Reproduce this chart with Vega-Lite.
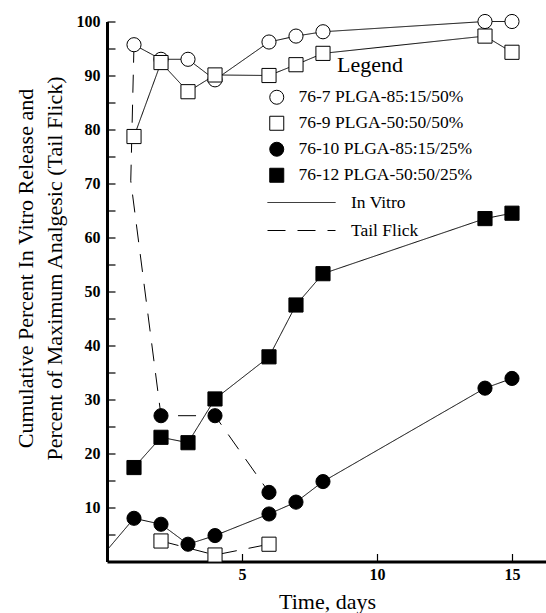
{
  "$schema": "https://vega.github.io/schema/vega-lite/v6.json",
  "width": 439,
  "height": 540,
  "autosize": "none",
  "padding": {"left": 107, "top": 21.5, "right": 0, "bottom": 51.5},
  "background": "white",
  "config": {
    "view": {"stroke": null},
    "font": "Liberation Serif",
    "axis": {"grid": false, "domainColor": "black", "domainWidth": 3, "tickColor": "black", "tickWidth": 1.2, "labelColor": "black", "titleColor": "black", "labelFont": "Liberation Serif", "titleFont": "Liberation Serif"},
    "legend": {"labelFont": "Liberation Serif", "titleFont": "Liberation Serif", "labelColor": "black", "titleColor": "black", "padding": 0, "labelLimit": 400, "symbolStrokeColor": "black"}
  },
  "data": {
    "values": [
      {"day": 1, "pct": 95.7, "series": "76-7 PLGA-85:15/50%", "type": "In Vitro", "curve": "76-7 In Vitro"},
      {"day": 2, "pct": 93.0, "series": "76-7 PLGA-85:15/50%", "type": "In Vitro", "curve": "76-7 In Vitro"},
      {"day": 3, "pct": 93.0, "series": "76-7 PLGA-85:15/50%", "type": "In Vitro", "curve": "76-7 In Vitro"},
      {"day": 4, "pct": 89.2, "series": "76-7 PLGA-85:15/50%", "type": "In Vitro", "curve": "76-7 In Vitro"},
      {"day": 6, "pct": 96.2, "series": "76-7 PLGA-85:15/50%", "type": "In Vitro", "curve": "76-7 In Vitro"},
      {"day": 7, "pct": 97.3, "series": "76-7 PLGA-85:15/50%", "type": "In Vitro", "curve": "76-7 In Vitro"},
      {"day": 8, "pct": 98.1, "series": "76-7 PLGA-85:15/50%", "type": "In Vitro", "curve": "76-7 In Vitro"},
      {"day": 14, "pct": 100, "series": "76-7 PLGA-85:15/50%", "type": "In Vitro", "curve": "76-7 In Vitro"},
      {"day": 15, "pct": 100, "series": "76-7 PLGA-85:15/50%", "type": "In Vitro", "curve": "76-7 In Vitro"},
      {"day": 1, "pct": 78.7, "series": "76-9 PLGA-50:50/50%", "type": "In Vitro", "curve": "76-9 In Vitro"},
      {"day": 2, "pct": 92.4, "series": "76-9 PLGA-50:50/50%", "type": "In Vitro", "curve": "76-9 In Vitro"},
      {"day": 3, "pct": 87.0, "series": "76-9 PLGA-50:50/50%", "type": "In Vitro", "curve": "76-9 In Vitro"},
      {"day": 4, "pct": 90.1, "series": "76-9 PLGA-50:50/50%", "type": "In Vitro", "curve": "76-9 In Vitro"},
      {"day": 6, "pct": 90.0, "series": "76-9 PLGA-50:50/50%", "type": "In Vitro", "curve": "76-9 In Vitro"},
      {"day": 7, "pct": 92.0, "series": "76-9 PLGA-50:50/50%", "type": "In Vitro", "curve": "76-9 In Vitro"},
      {"day": 8, "pct": 94.1, "series": "76-9 PLGA-50:50/50%", "type": "In Vitro", "curve": "76-9 In Vitro"},
      {"day": 14, "pct": 97.3, "series": "76-9 PLGA-50:50/50%", "type": "In Vitro", "curve": "76-9 In Vitro"},
      {"day": 15, "pct": 94.3, "series": "76-9 PLGA-50:50/50%", "type": "In Vitro", "curve": "76-9 In Vitro"},
      {"day": 0, "pct": 2.1, "series": null, "type": "In Vitro", "curve": "76-10 In Vitro"},
      {"day": 1, "pct": 8.0, "series": "76-10 PLGA-85:15/25%", "type": "In Vitro", "curve": "76-10 In Vitro"},
      {"day": 2, "pct": 6.9, "series": "76-10 PLGA-85:15/25%", "type": "In Vitro", "curve": "76-10 In Vitro"},
      {"day": 3, "pct": 3.2, "series": "76-10 PLGA-85:15/25%", "type": "In Vitro", "curve": "76-10 In Vitro"},
      {"day": 4, "pct": 4.8, "series": "76-10 PLGA-85:15/25%", "type": "In Vitro", "curve": "76-10 In Vitro"},
      {"day": 6, "pct": 8.8, "series": "76-10 PLGA-85:15/25%", "type": "In Vitro", "curve": "76-10 In Vitro"},
      {"day": 7, "pct": 11.0, "series": "76-10 PLGA-85:15/25%", "type": "In Vitro", "curve": "76-10 In Vitro"},
      {"day": 8, "pct": 14.8, "series": "76-10 PLGA-85:15/25%", "type": "In Vitro", "curve": "76-10 In Vitro"},
      {"day": 14, "pct": 32.1, "series": "76-10 PLGA-85:15/25%", "type": "In Vitro", "curve": "76-10 In Vitro"},
      {"day": 15, "pct": 33.9, "series": "76-10 PLGA-85:15/25%", "type": "In Vitro", "curve": "76-10 In Vitro"},
      {"day": 1, "pct": 17.4, "series": "76-12 PLGA-50:50/25%", "type": "In Vitro", "curve": "76-12 In Vitro"},
      {"day": 2, "pct": 23.0, "series": "76-12 PLGA-50:50/25%", "type": "In Vitro", "curve": "76-12 In Vitro"},
      {"day": 3, "pct": 22.0, "series": "76-12 PLGA-50:50/25%", "type": "In Vitro", "curve": "76-12 In Vitro"},
      {"day": 4, "pct": 30.1, "series": "76-12 PLGA-50:50/25%", "type": "In Vitro", "curve": "76-12 In Vitro"},
      {"day": 6, "pct": 37.9, "series": "76-12 PLGA-50:50/25%", "type": "In Vitro", "curve": "76-12 In Vitro"},
      {"day": 7, "pct": 47.5, "series": "76-12 PLGA-50:50/25%", "type": "In Vitro", "curve": "76-12 In Vitro"},
      {"day": 8, "pct": 53.3, "series": "76-12 PLGA-50:50/25%", "type": "In Vitro", "curve": "76-12 In Vitro"},
      {"day": 14, "pct": 63.5, "series": "76-12 PLGA-50:50/25%", "type": "In Vitro", "curve": "76-12 In Vitro"},
      {"day": 15, "pct": 64.5, "series": "76-12 PLGA-50:50/25%", "type": "In Vitro", "curve": "76-12 In Vitro"},
      {"day": 1, "pct": 95.7, "series": null, "type": "Tail Flick", "curve": "76-10 Tail Flick"},
      {"day": 0.88, "pct": 70.5, "series": null, "type": "Tail Flick", "curve": "76-10 Tail Flick"},
      {"day": 2, "pct": 27.0, "series": "76-10 PLGA-85:15/25%", "type": "Tail Flick", "curve": "76-10 Tail Flick"},
      {"day": 4, "pct": 27.0, "series": "76-10 PLGA-85:15/25%", "type": "Tail Flick", "curve": "76-10 Tail Flick"},
      {"day": 6, "pct": 12.8, "series": "76-10 PLGA-85:15/25%", "type": "Tail Flick", "curve": "76-10 Tail Flick"},
      {"day": 2, "pct": 3.8, "series": "76-9 PLGA-50:50/50%", "type": "Tail Flick", "curve": "76-9 Tail Flick"},
      {"day": 4, "pct": 1.2, "series": "76-9 PLGA-50:50/50%", "type": "Tail Flick", "curve": "76-9 Tail Flick"},
      {"day": 6, "pct": 3.2, "series": "76-9 PLGA-50:50/50%", "type": "Tail Flick", "curve": "76-9 Tail Flick"}
    ]
  },
  "encoding": {
    "x": {
      "field": "day", "type": "quantitative",
      "scale": {"domain": [0, 16.26], "nice": false, "zero": false},
      "axis": {
        "values": [5, 10, 15], "tickSize": -8, "labelPadding": 13,
        "labelFontSize": 16, "labelFontWeight": "bold",
        "title": "Time, days", "titleFontSize": 22, "titleFontWeight": "normal",
        "titleX": 220, "titleY": 46.5, "titleAlign": "center", "titleBaseline": "alphabetic"
      }
    },
    "y": {
      "field": "pct", "type": "quantitative",
      "scale": {"domain": [0, 100], "nice": false},
      "axis": {
        "values": [5, 10, 15, 20, 25, 30, 35, 40, 45, 50, 55, 60, 65, 70, 75, 80, 85, 90, 95, 100],
        "labelExpr": "datum.value % 10 === 0 ? datum.label : ''",
        "tickSize": -8, "labelPadding": 15,
        "labelFontSize": 16, "labelFontWeight": "bold",
        "title": ["Cumulative Percent In Vitro Release and", "Percent of Maximum Analgesic (Tail Flick)"],
        "titleFontSize": 22, "titleFontWeight": "normal", "titleLineHeight": 29,
        "titleAngle": 270, "titleX": -75, "titleY": 246.5, "titleAlign": "center", "titleBaseline": "alphabetic"
      }
    }
  },
  "layer": [
    {
      "mark": {"type": "line", "color": "black", "strokeWidth": 1},
      "encoding": {
        "detail": {"field": "curve"},
        "order": {"value": null},
        "strokeDash": {
          "field": "type", "type": "nominal",
          "scale": {"domain": ["In Vitro", "Tail Flick"], "range": [[1, 0], [18, 12]]},
          "legend": {
            "orient": "none", "legendX": 160, "legendY": 173, "title": null,
            "symbolType": "stroke", "symbolSize": 4624, "clipHeight": 16,
            "symbolStrokeColor": "black", "symbolStrokeWidth": 1,
            "labelFontSize": 17.5, "labelOffset": 15, "rowPadding": 10
          }
        }
      }
    },
    {
      "transform": [{"filter": "isValid(datum.series)"}],
      "mark": {"type": "point", "filled": true, "strokeWidth": 1, "size": 200, "opacity": 1},
      "encoding": {
        "stroke": {
          "field": "series", "type": "nominal",
          "scale": {"domain": ["76-7 PLGA-85:15/50%", "76-9 PLGA-50:50/50%", "76-10 PLGA-85:15/25%", "76-12 PLGA-50:50/25%"], "range": ["black", "black", "black", "black"]},
          "legend": {
            "orient": "none", "legendX": 161, "legendY": 33, "title": "Legend",
            "titleFontSize": 22, "titleFontWeight": "normal", "titleAnchor": "middle", "titlePadding": 12,
            "symbolSize": 196, "symbolStrokeWidth": 1,
            "labelFontSize": 17.5, "labelOffset": 13, "rowPadding": 7,
            "encode": {"title": {"update": {"dx": {"value": 8}}}}
          }
        },
        "shape": {
          "field": "series", "type": "nominal",
          "scale": {"domain": ["76-7 PLGA-85:15/50%", "76-9 PLGA-50:50/50%", "76-10 PLGA-85:15/25%", "76-12 PLGA-50:50/25%"], "range": ["circle", "square", "circle", "square"]},
          "legend": {
            "orient": "none", "legendX": 161, "legendY": 33, "title": "Legend",
            "titleFontSize": 22, "titleFontWeight": "normal", "titleAnchor": "middle", "titlePadding": 12,
            "symbolSize": 196, "symbolStrokeWidth": 1,
            "labelFontSize": 17.5, "labelOffset": 13, "rowPadding": 7,
            "encode": {"title": {"update": {"dx": {"value": 8}}}}
          }
        },
        "fill": {
          "field": "series", "type": "nominal",
          "scale": {"domain": ["76-7 PLGA-85:15/50%", "76-9 PLGA-50:50/50%", "76-10 PLGA-85:15/25%", "76-12 PLGA-50:50/25%"], "range": ["white", "white", "black", "black"]},
          "legend": {
            "orient": "none", "legendX": 161, "legendY": 33, "title": "Legend",
            "titleFontSize": 22, "titleFontWeight": "normal", "titleAnchor": "middle", "titlePadding": 12,
            "symbolSize": 196, "symbolStrokeWidth": 1,
            "labelFontSize": 17.5, "labelOffset": 13, "rowPadding": 7,
            "encode": {"title": {"update": {"dx": {"value": 8}}}}
          }
        }
      }
    }
  ]
}
